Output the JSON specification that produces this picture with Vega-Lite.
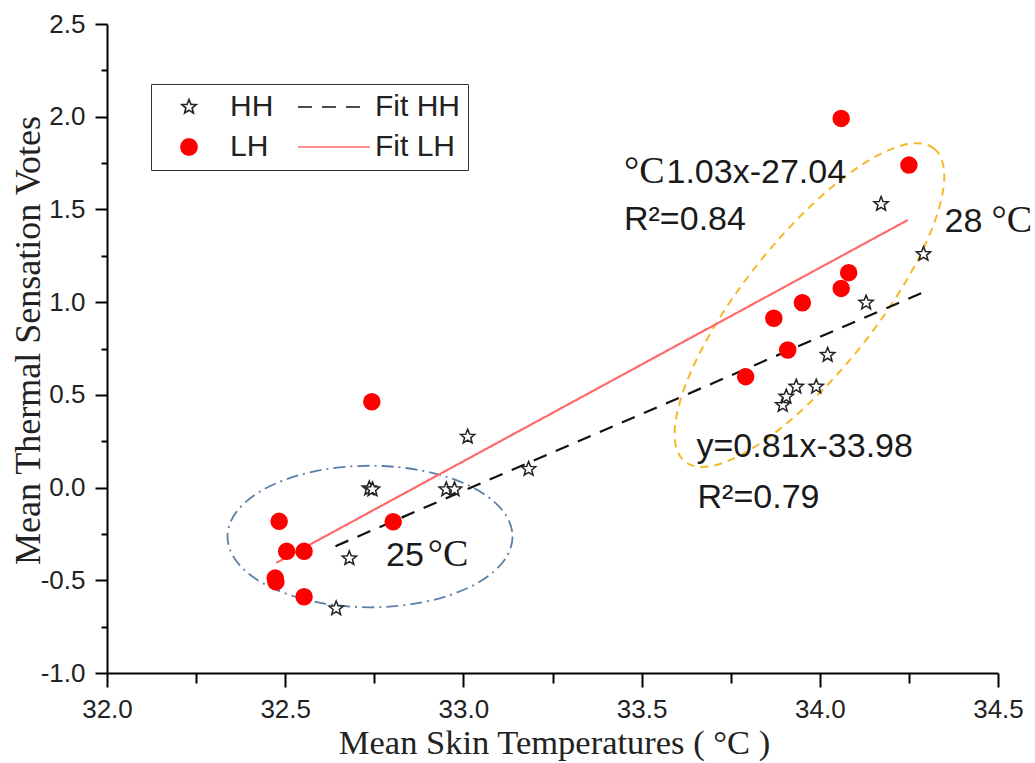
{
  "$schema": "https://vega.github.io/schema/vega-lite/v6.json",
  "autosize": {"type": "none"},
  "width": 891,
  "height": 649,
  "padding": {"left": 107, "top": 24, "right": 37, "bottom": 90},
  "background": "white",
  "config": {
    "view": {"stroke": null},
    "axis": {
      "grid": false,
      "domainColor": "#000",
      "domainWidth": 2,
      "tickColor": "#000",
      "tickWidth": 2,
      "labelFont": "Liberation Sans",
      "labelFontSize": 26,
      "labelColor": "#222",
      "labelFlush": false,
      "labelOverlap": false,
      "titleFont": "Liberation Serif",
      "titleFontWeight": "normal",
      "titleColor": "#222"
    },
    "legend": {
      "columns": 2,
      "strokeColor": "#333",
      "padding": 8,
      "symbolSize": 338,
      "symbolStrokeWidth": 1.6,
      "symbolOffset": 15,
      "labelFont": "Liberation Sans",
      "labelFontSize": 30,
      "labelColor": "#222",
      "labelOffset": 26,
      "columnPadding": 20,
      "rowPadding": 10
    }
  },
  "datasets": {
    "points": [
      {"series": "HH", "x": 32.643, "y": -0.652},
      {"series": "HH", "x": 32.680, "y": -0.382},
      {"series": "HH", "x": 32.736, "y": -0.005},
      {"series": "HH", "x": 32.745, "y": -0.010},
      {"series": "HH", "x": 32.952, "y": -0.010},
      {"series": "HH", "x": 32.975, "y": -0.010},
      {"series": "HH", "x": 33.012, "y": 0.274},
      {"series": "HH", "x": 33.183, "y": 0.100},
      {"series": "HH", "x": 33.896, "y": 0.445},
      {"series": "HH", "x": 33.906, "y": 0.490},
      {"series": "HH", "x": 33.934, "y": 0.544},
      {"series": "HH", "x": 33.990, "y": 0.544},
      {"series": "HH", "x": 34.022, "y": 0.715},
      {"series": "HH", "x": 34.130, "y": 0.997},
      {"series": "HH", "x": 34.172, "y": 1.529},
      {"series": "HH", "x": 34.291, "y": 1.259},
      {"series": "LH", "x": 32.483, "y": -0.182},
      {"series": "LH", "x": 32.504, "y": -0.344},
      {"series": "LH", "x": 32.553, "y": -0.344},
      {"series": "LH", "x": 32.472, "y": -0.488},
      {"series": "LH", "x": 32.474, "y": -0.508},
      {"series": "LH", "x": 32.553, "y": -0.589},
      {"series": "LH", "x": 32.743, "y": 0.463},
      {"series": "LH", "x": 32.803, "y": -0.184},
      {"series": "LH", "x": 33.792, "y": 0.598},
      {"series": "LH", "x": 33.910, "y": 0.742},
      {"series": "LH", "x": 33.871, "y": 0.913},
      {"series": "LH", "x": 33.951, "y": 0.997},
      {"series": "LH", "x": 34.060, "y": 1.074},
      {"series": "LH", "x": 34.081, "y": 1.159},
      {"series": "LH", "x": 34.250, "y": 1.739},
      {"series": "LH", "x": 34.060, "y": 1.991}
    ],
    "fits": [
      {"series": "Fit HH", "x": 32.641, "y": -0.316},
      {"series": "Fit HH", "x": 34.294, "y": 1.056},
      {"series": "Fit LH", "x": 32.475, "y": -0.406},
      {"series": "Fit LH", "x": 34.247, "y": 1.443}
    ],
    "sans": [
      {"x": 33.5699, "y": 1.6424, "label": "1.03x-27.04"},
      {"x": 33.4506, "y": 1.3889, "label": "R²=0.84"},
      {"x": 34.3499, "y": 1.378, "label": "28"},
      {"x": 33.654, "y": 0.1645, "label": "y=0.81x-33.98"},
      {"x": 33.657, "y": -0.1106, "label": "R²=0.79"},
      {"x": 32.783, "y": -0.4234, "label": "25"}
    ],
    "serif": [
      {"x": 33.4506, "y": 1.6424, "label": "°C"},
      {"x": 34.482, "y": 1.378, "label": "°C"},
      {"x": 32.9, "y": -0.4234, "label": "°C"}
    ],
    "blue": [{"x": 32.738, "y": -0.264}],
    "orange": [{"x": 33.971, "y": 0.984}]
  },
  "resolve": {"axis": {"x": "independent", "y": "independent"}},
  "layer": [
    {
      "data": {"name": "blue"},
      "mark": {
        "type": "point",
        "shape": "M1,0C1,0.2742 0.5523,0.4965 0,0.4965C-0.5523,0.4965 -1,0.2742 -1,0C-1,-0.2742 -0.5523,-0.4965 0,-0.4965C0.5523,-0.4965 1,-0.2742 1,0Z",
        "size": 81225,
        "filled": false,
        "opacity": 1,
        "stroke": "#5b80a6",
        "strokeWidth": 1.8,
        "strokeDash": [12, 5, 2, 5]
      },
      "encoding": {
        "x": {"field": "x", "type": "quantitative", "scale": {"domain": [32, 34.5], "nice": false, "zero": false},
              "axis": {"orient": "bottom", "values": [32.25, 32.75, 33.25, 33.75, 34.25], "labels": false, "domain": false, "tickSize": 10, "title": null}},
        "y": {"field": "y", "type": "quantitative", "scale": {"domain": [-1, 2.5], "nice": false, "zero": false},
              "axis": {"orient": "left", "values": [-0.75, -0.25, 0.25, 0.75, 1.25, 1.75, 2.25], "labels": false, "domain": false, "tickSize": 6, "title": null}}
      }
    },
    {
      "data": {"name": "orange"},
      "mark": {
        "type": "point",
        "shape": "M1,0C1,0.1823 0.5523,0.33 0,0.33C-0.5523,0.33 -1,0.1823 -1,0C-1,-0.1823 -0.5523,-0.33 0,-0.33C0.5523,-0.33 1,-0.1823 1,0Z",
        "size": 160000,
        "angle": 308.5,
        "filled": false,
        "opacity": 1,
        "stroke": "#f5b829",
        "strokeWidth": 2,
        "strokeDash": [8, 6]
      },
      "encoding": {
        "x": {"field": "x", "type": "quantitative", "scale": {"domain": [32, 34.5], "nice": false, "zero": false}, "axis": null},
        "y": {"field": "y", "type": "quantitative", "scale": {"domain": [-1, 2.5], "nice": false, "zero": false}, "axis": null}
      }
    },
    {
      "data": {"name": "fits"},
      "mark": {"type": "line", "strokeWidth": 2.2},
      "encoding": {
        "x": {"field": "x", "type": "quantitative", "scale": {"domain": [32, 34.5], "nice": false, "zero": false}, "axis": null},
        "y": {"field": "y", "type": "quantitative", "scale": {"domain": [-1, 2.5], "nice": false, "zero": false}, "axis": null},
        "stroke": {"field": "series", "type": "nominal",
                   "scale": {"domain": ["HH", "LH", "Fit HH", "Fit LH"], "range": ["#222222", "#ff0000", "#111111", "#ff6b6b"]},
                   "legend": {"title": null, "orient": "none", "legendX": 44, "legendY": 60}},
        "strokeDash": {"field": "series", "type": "nominal",
                       "scale": {"domain": ["HH", "LH", "Fit HH", "Fit LH"], "range": [[1, 0], [1, 0], [14, 10], [1, 0]]},
                       "legend": {"title": null, "orient": "none", "legendX": 44, "legendY": 60}}
      }
    },
    {
      "data": {"name": "points"},
      "mark": {"type": "point", "size": 338, "opacity": 1, "strokeWidth": 1.5},
      "encoding": {
        "x": {"field": "x", "type": "quantitative", "scale": {"domain": [32, 34.5], "nice": false, "zero": false},
              "axis": {"orient": "bottom", "values": [32, 32.5, 33, 33.5, 34, 34.5], "format": ".1f", "tickSize": 14, "labelPadding": 9,
                       "title": "Mean Skin Temperatures ( °C )", "titleFontSize": 34.5, "titleX": 447, "titleY": 80, "titleBaseline": "alphabetic", "titleAlign": "center"}},
        "y": {"field": "y", "type": "quantitative", "scale": {"domain": [-1, 2.5], "nice": false, "zero": false},
              "axis": {"orient": "left", "values": [-1, -0.5, 0, 0.5, 1, 1.5, 2, 2.5], "labelExpr": "replace(format(datum.value, '.1f'), '\u2212', '-')", "tickSize": 12, "labelPadding": 10,
                       "title": "Mean Thermal Sensation Votes", "titleFontSize": 36, "titleX": -68, "titleY": 316, "titleAngle": -90, "titleBaseline": "alphabetic", "titleAlign": "center"}},
        "shape": {"field": "series", "type": "nominal",
                  "scale": {"domain": ["HH", "LH", "Fit HH", "Fit LH"],
                            "range": [
                              "M0,-0.816L0.2087,-0.2872L0.776,-0.252L0.3376,0.1097L0.48,0.66L0,0.355L-0.48,0.66L-0.3376,0.1097L-0.776,-0.252L-0.2087,-0.2872Z",
                              "M0.87,0C0.87,0.4805 0.4805,0.87 0,0.87C-0.4805,0.87 -0.87,0.4805 -0.87,0C-0.87,-0.4805 -0.4805,-0.87 0,-0.87C0.4805,-0.87 0.87,-0.4805 0.87,0Z",
                              "M-3.92,0L3.92,0",
                              "M-3.92,0L3.92,0"]},
                  "legend": {"title": null, "orient": "none", "legendX": 44, "legendY": 60}},
        "stroke": {"field": "series", "type": "nominal",
                   "scale": {"domain": ["HH", "LH", "Fit HH", "Fit LH"], "range": ["#222222", "#ff0000", "#111111", "#ff6b6b"]},
                   "legend": {"title": null, "orient": "none", "legendX": 44, "legendY": 60}},
        "fill": {"field": "series", "type": "nominal",
                 "scale": {"domain": ["HH", "LH", "Fit HH", "Fit LH"], "range": ["#ffffff", "#ff0000", "#ffffff", "#ffffff"]},
                 "legend": {"title": null, "orient": "none", "legendX": 44, "legendY": 60}}
      }
    },
    {
      "data": {"name": "sans"},
      "mark": {"type": "text", "align": "left", "baseline": "alphabetic", "font": "Liberation Sans", "fontSize": 34, "color": "#1a1a1a"},
      "encoding": {
        "x": {"field": "x", "type": "quantitative", "scale": {"domain": [32, 34.5], "nice": false, "zero": false}, "axis": null},
        "y": {"field": "y", "type": "quantitative", "scale": {"domain": [-1, 2.5], "nice": false, "zero": false}, "axis": null},
        "text": {"field": "label", "type": "nominal"}
      }
    },
    {
      "data": {"name": "serif"},
      "mark": {"type": "text", "align": "left", "baseline": "alphabetic", "font": "Liberation Serif", "fontSize": 38, "color": "#1a1a1a"},
      "encoding": {
        "x": {"field": "x", "type": "quantitative", "scale": {"domain": [32, 34.5], "nice": false, "zero": false}, "axis": null},
        "y": {"field": "y", "type": "quantitative", "scale": {"domain": [-1, 2.5], "nice": false, "zero": false}, "axis": null},
        "text": {"field": "label", "type": "nominal"}
      }
    }
  ]
}
